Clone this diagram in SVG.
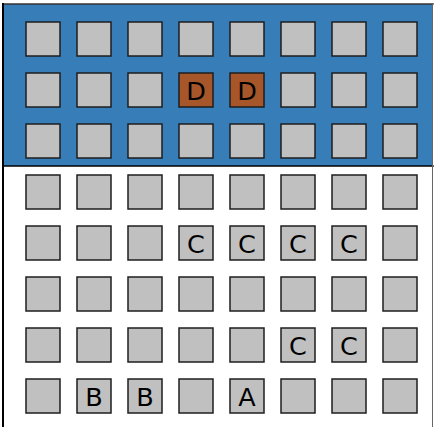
<svg xmlns="http://www.w3.org/2000/svg" width="434" height="427" viewBox="0 0 434 427">
<style>
.b{fill:#c0c0c0;stroke:#1e1e1e;stroke-width:1.5}
.d{fill:#a65628;stroke:#1e1e1e;stroke-width:1.5}
.t{font-family:"DejaVu Sans",sans-serif;font-size:25.5px;fill:#000;text-anchor:middle}
</style>
<rect width="434" height="427" fill="#fff"/>
<rect x="3" y="4" width="430" height="162" fill="#377eb8"/>
<g id="frame" stroke-linecap="square">
<line x1="3" y1="4" x2="433" y2="4" stroke="#333" stroke-width="1.5"/>
<line x1="3" y1="166" x2="433" y2="166" stroke="#000" stroke-width="1.5"/>
<line x1="3" y1="4" x2="3" y2="427" stroke="#000" stroke-width="2"/>
<line x1="432.5" y1="4" x2="432.5" y2="427" stroke="#666" stroke-width="1"/>
</g>
<g id="cells">
<g id="r0"><rect class="b" x="26" y="22" width="34" height="34"/><rect class="b" x="77" y="22" width="34" height="34"/><rect class="b" x="128" y="22" width="34" height="34"/><rect class="b" x="179" y="22" width="34" height="34"/><rect class="b" x="230" y="22" width="34" height="34"/><rect class="b" x="281" y="22" width="34" height="34"/><rect class="b" x="332" y="22" width="34" height="34"/><rect class="b" x="383" y="22" width="34" height="34"/></g>
<g id="r1"><rect class="b" x="26" y="73" width="34" height="34"/><rect class="b" x="77" y="73" width="34" height="34"/><rect class="b" x="128" y="73" width="34" height="34"/><rect class="b" x="281" y="73" width="34" height="34"/><rect class="b" x="332" y="73" width="34" height="34"/><rect class="b" x="383" y="73" width="34" height="34"/></g>
<g id="d1"><rect class="d" x="179" y="73" width="34" height="34"/><text class="t" x="196" y="99.5">D</text></g>
<g id="d2"><rect class="d" x="230" y="73" width="34" height="34"/><text class="t" x="247" y="99.5">D</text></g>
<g id="r2"><rect class="b" x="26" y="124" width="34" height="34"/><rect class="b" x="77" y="124" width="34" height="34"/><rect class="b" x="128" y="124" width="34" height="34"/><rect class="b" x="179" y="124" width="34" height="34"/><rect class="b" x="230" y="124" width="34" height="34"/><rect class="b" x="281" y="124" width="34" height="34"/><rect class="b" x="332" y="124" width="34" height="34"/><rect class="b" x="383" y="124" width="34" height="34"/></g>
<g id="r3"><rect class="b" x="26" y="175" width="34" height="34"/><rect class="b" x="77" y="175" width="34" height="34"/><rect class="b" x="128" y="175" width="34" height="34"/><rect class="b" x="179" y="175" width="34" height="34"/><rect class="b" x="230" y="175" width="34" height="34"/><rect class="b" x="281" y="175" width="34" height="34"/><rect class="b" x="332" y="175" width="34" height="34"/><rect class="b" x="383" y="175" width="34" height="34"/></g>
<g id="r4"><rect class="b" x="26" y="226" width="34" height="34"/><rect class="b" x="77" y="226" width="34" height="34"/><rect class="b" x="128" y="226" width="34" height="34"/><rect class="b" x="383" y="226" width="34" height="34"/></g>
<g id="c1"><rect class="b" x="179" y="226" width="34" height="34"/><text class="t" x="196" y="252.5">C</text></g>
<g id="c2"><rect class="b" x="230" y="226" width="34" height="34"/><text class="t" x="247" y="252.5">C</text></g>
<g id="c3"><rect class="b" x="281" y="226" width="34" height="34"/><text class="t" x="298" y="252.5">C</text></g>
<g id="c4"><rect class="b" x="332" y="226" width="34" height="34"/><text class="t" x="349" y="252.5">C</text></g>
<g id="r5"><rect class="b" x="26" y="277" width="34" height="34"/><rect class="b" x="77" y="277" width="34" height="34"/><rect class="b" x="128" y="277" width="34" height="34"/><rect class="b" x="179" y="277" width="34" height="34"/><rect class="b" x="230" y="277" width="34" height="34"/><rect class="b" x="281" y="277" width="34" height="34"/><rect class="b" x="332" y="277" width="34" height="34"/><rect class="b" x="383" y="277" width="34" height="34"/></g>
<g id="r6"><rect class="b" x="26" y="328" width="34" height="34"/><rect class="b" x="77" y="328" width="34" height="34"/><rect class="b" x="128" y="328" width="34" height="34"/><rect class="b" x="179" y="328" width="34" height="34"/><rect class="b" x="230" y="328" width="34" height="34"/><rect class="b" x="383" y="328" width="34" height="34"/></g>
<g id="c5"><rect class="b" x="281" y="328" width="34" height="34"/><text class="t" x="298" y="354.5">C</text></g>
<g id="c6"><rect class="b" x="332" y="328" width="34" height="34"/><text class="t" x="349" y="354.5">C</text></g>
<g id="r7"><rect class="b" x="26" y="379" width="34" height="34"/><rect class="b" x="179" y="379" width="34" height="34"/><rect class="b" x="281" y="379" width="34" height="34"/><rect class="b" x="332" y="379" width="34" height="34"/><rect class="b" x="383" y="379" width="34" height="34"/></g>
<g id="b1"><rect class="b" x="77" y="379" width="34" height="34"/><text class="t" x="94" y="405.5">B</text></g>
<g id="b2"><rect class="b" x="128" y="379" width="34" height="34"/><text class="t" x="145" y="405.5">B</text></g>
<g id="a1"><rect class="b" x="230" y="379" width="34" height="34"/><text class="t" x="247" y="405.5">A</text></g>
</g>
</svg>
